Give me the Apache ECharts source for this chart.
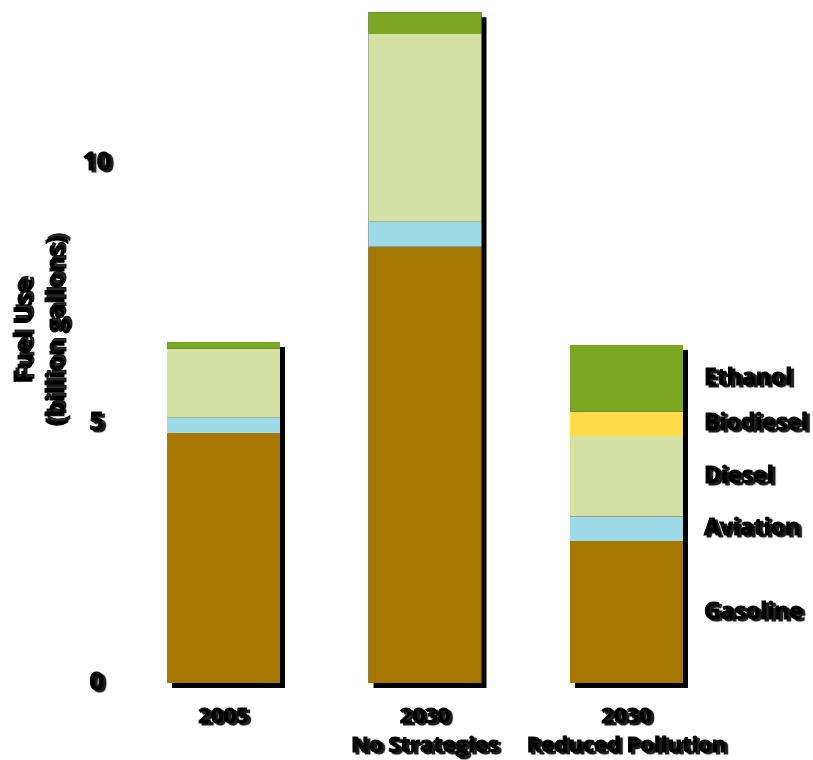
<!DOCTYPE html>
<html>
<head>
<meta charset="utf-8">
<script src="https://cdn.jsdelivr.net/npm/echarts@6/dist/echarts.min.js"></script>
<style>
html,body{margin:0;padding:0;background:#fff;}
#chart{width:813px;height:760px;}
</style>
</head>
<body>
<div id="chart"></div>
<script>
const categories = ['2005', '2030\nNo Strategies', '2030\nReduced Pollution'];
const seriesNames = ['Gasoline', 'Aviation', 'Diesel', 'Biodiesel', 'Ethanol'];
const gasoline  = [4.81, 8.39, 2.73];
const aviation  = [0.29, 0.48, 0.47];
const diesel    = [1.33, 3.61, 1.55];
const biodiesel = [0, 0, 0.47];
const ethanol   = [0.13, 0.42, 1.28];
const yTicks = [0, 5, 10];
const titleLines = ['Fuel Use', '(billion gallons)'];

const colors = ['#A67800', '#9DDBE9', '#D5E0A5', '#FEDB4A', '#7AA823'];
const values = [gasoline, aviation, diesel, biodiesel, ethanol];
const totals = categories.map((c, i) => values.reduce((s, v) => s + v[i], 0));

const FONT = 'Open Sans';
const txtShadow = {textShadowColor: 'rgba(0,0,0,0.9)', textShadowOffsetX: 3, textShadowOffsetY: 2, textShadowBlur: 1,
  textBorderColor: '#000', textBorderWidth: 1};

const chart = echarts.init(document.getElementById('chart'));
const series = [{
  type: 'bar',
  name: 'shadow',
  data: totals,
  barWidth: 113,
  barGap: '-100%',
  z: 1,
  silent: true,
  itemStyle: {color: '#000', shadowColor: '#000', shadowOffsetX: 5, shadowOffsetY: 5, shadowBlur: 0}
}];
seriesNames.forEach((name, si) => {
  series.push({
    type: 'bar',
    name: name,
    stack: 'fuel',
    barWidth: 113,
    barGap: '-100%',
    z: 2,
    itemStyle: {color: colors[si]},
    data: values[si].map((v, i) => i === 2 ? {
      value: v,
      label: {
        show: true, position: 'right', distance: 21,
        formatter: name, color: '#000', fontFamily: FONT, fontWeight: 'bold', fontSize: 23,
        ...txtShadow
      }
    } : v)
  });
});

const titleX = [25, 57];
const graphics = [];
titleLines.forEach((t, k) => {
  [[2, -3, 'rgba(0,0,0,0.85)'], [0, 0, '#000']].forEach(([dx, dy, col]) => {
    graphics.push({type: 'text', x: titleX[k] + dx, y: 331 + dy, rotation: Math.PI / 2,
      style: {text: t, fill: col, font: 'bold 25px "Open Sans"', textAlign: 'center', textVerticalAlign: 'middle',
        stroke: col, lineWidth: 1}});
  });
});

chart.setOption({
  animation: false,
  backgroundColor: '#fff',
  grid: {left: 122.75, right: 85.75, top: 7, bottom: 77},
  xAxis: {
    type: 'category',
    data: categories,
    axisLine: {show: false},
    axisTick: {show: false},
    axisLabel: {
      interval: 0,
      margin: 19, color: '#000', fontFamily: FONT, fontWeight: 'bold', fontSize: 22,
      lineHeight: 29, ...txtShadow
    }
  },
  yAxis: {
    type: 'value',
    min: 0, max: 13, interval: 5,
    splitLine: {show: false},
    axisLine: {show: false},
    axisTick: {show: false},
    axisLabel: {
      margin: 26, align: 'center', color: '#000', fontFamily: FONT, fontWeight: 'bold', fontSize: 25,
      formatter: v => yTicks.includes(v) ? String(v) : '', ...txtShadow
    }
  },
  graphic: graphics,
  series: series
});
</script>
</body>
</html>
